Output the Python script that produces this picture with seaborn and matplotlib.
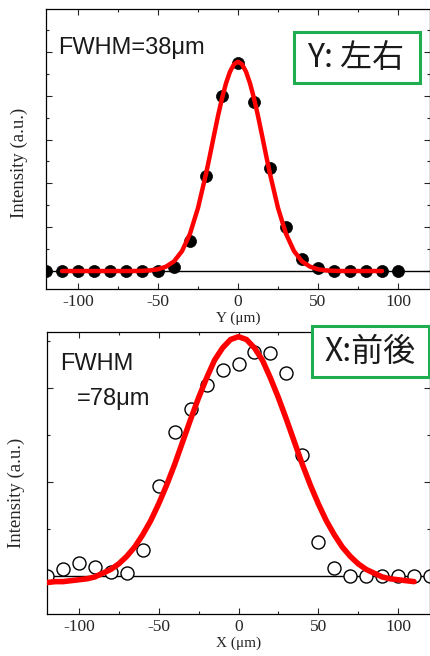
import numpy as np
import pandas as pd
from matplotlib import pyplot as plt
from matplotlib.patches import Rectangle
from matplotlib.ticker import MultipleLocator, NullFormatter
import seaborn as sns

# Y scan (left-right), filled dots
y_pos = [-120, -110, -100, -90, -80, -70, -60, -50, -40, -30, -20, -10, 0,
         10, 20, 30, 40, 50, 60, 70, 80, 90, 100]
y_int = [0, 0, 0, 0, 0, 0, 0, 0, 0.02, 0.137, 0.434, 0.80, 0.95,
         0.77, 0.47, 0.20, 0.055, 0.014, 0, 0, 0, 0, 0]

# Y fit curve
y_fit_pos = [-110, -100, -90, -80, -70, -65, -60, -55, -50, -45, -40, -35, -30, -25, -20,
             -17.5, -15, -12.5, -10, -7.5, -5, -2.5, 0, 2.5, 5, 7.5, 10, 12.5, 15, 17.5,
             20, 25, 30, 35, 40, 45, 50, 55, 60, 65, 70, 80, 90]
y_fit_int = [0, 0, 0, 0, 0, 0, 0.001, 0.003, 0.008, 0.020, 0.044, 0.091, 0.170, 0.288, 0.443,
             0.530, 0.620, 0.708, 0.788, 0.857, 0.910, 0.944, 0.955, 0.944, 0.910, 0.857, 0.788, 0.708, 0.620, 0.530,
             0.443, 0.288, 0.170, 0.091, 0.044, 0.020, 0.008, 0.003, 0.001, 0, 0, 0, 0]

# X scan (front-back), open circles
x_pos = [-120, -110, -100, -90, -80, -70, -60, -50, -40, -30, -20, -10, 0,
         10, 20, 30, 40, 50, 60, 70, 80, 90, 100, 110, 120]
x_int = [0, 0.071, 0.142, 0.10, 0.04, 0.028, 0.278, 0.964, 1.53, 1.78, 2.03, 2.19, 2.26,
         2.39, 2.38, 2.16, 1.29, 0.36, 0.08, 0, 0, 0, 0, 0, 0]

# X fit curve
x_fit_pos = [-120, -115, -110, -105, -100, -95, -90, -85, -80, -75, -70, -65, -60, -55, -50,
             -45, -40, -35, -30, -25, -20, -15, -10, -5, 0, 5, 10, 15, 20, 25, 30, 35, 40,
             45, 50, 55, 60, 65, 70, 75, 80, 85, 90, 95, 100, 105, 110]
x_fit_int = [-0.07, -0.06, -0.06, -0.05, -0.04, -0.03, -0.01, 0.03, 0.07, 0.13, 0.21, 0.31, 0.44, 0.59, 0.77,
             0.97, 1.19, 1.43, 1.67, 1.90, 2.11, 2.30, 2.43, 2.52, 2.55, 2.52, 2.43, 2.30, 2.11, 1.90, 1.67, 1.43, 1.19,
             0.97, 0.77, 0.59, 0.44, 0.31, 0.21, 0.13, 0.07, 0.03, -0.01, -0.03, -0.04, -0.05, -0.06]

x_ticks = [-100, -50, 0, 50, 100]
green = '#1fae4f'
serif = 'Liberation Serif'


def style_axes(ax, ymajor, ylim, xlabel):
    ax.set_xlim(-120, 120)
    ax.set_ylim(*ylim)
    ax.set_xticks(x_ticks)
    ax.xaxis.set_minor_locator(MultipleLocator(25))
    ax.yaxis.set_major_locator(MultipleLocator(ymajor))
    ax.yaxis.set_minor_locator(MultipleLocator(ymajor / 2))
    ax.yaxis.set_major_formatter(NullFormatter())
    ax.tick_params(which='both', direction='in', top=True, right=True, width=0.8)
    ax.tick_params(which='major', length=4.5)
    ax.tick_params(which='minor', length=2.5)
    for lab in ax.get_xticklabels():
        lab.set_fontfamily(serif)
        lab.set_fontsize(12.5)
    ax.set_xlabel(xlabel, fontfamily=serif, fontsize=11, labelpad=1)
    ax.set_ylabel('Intensity (a.u.)', fontfamily=serif, fontsize=13.5)
    for sp in ax.spines.values():
        sp.set_linewidth(0.9)
        sp.set_color('black')
    ax.axhline(0, color='black', lw=1, zorder=1)


def px(x, y):
    return x / 430, 1 - y / 656


def main():
    sns.set_style('ticks')
    plt.rcParams['axes.unicode_minus'] = False

    fig = plt.figure(figsize=(4.3, 6.56), dpi=100)

    # top panel
    ax1 = fig.add_axes([46 / 430, 1 - 289 / 656, 1 - 46 / 430, 280 / 656])
    sns.scatterplot(x=y_pos, y=y_int, ax=ax1, s=75, color='black', edgecolor='black',
                    linewidth=0.5, zorder=2)
    sns.lineplot(x=y_fit_pos, y=y_fit_int, ax=ax1, color='#ff0000', lw=3.2, zorder=3)
    style_axes(ax1, 0.2, (-0.082, 1.196), 'Y (μm)')
    ax1.yaxis.set_label_coords(-0.047, 0.45)

    # bottom panel
    ax2 = fig.add_axes([47 / 430, 1 - 614 / 656, 1 - 47 / 430, 282 / 656])
    sns.scatterplot(x=x_pos, y=x_int, ax=ax2, s=88, color='white', edgecolor='black',
                    linewidth=1.0, zorder=2)
    sns.lineplot(x=x_fit_pos, y=x_fit_int, ax=ax2, color='#ff0000', lw=4, zorder=3)
    style_axes(ax2, 1.0, (-0.405, 2.60), 'X (μm)')
    ax2.yaxis.set_label_coords(-0.057, 0.43)

    sans = ['Liberation Sans', 'DejaVu Sans']
    fig.text(*px(58, 54), 'FWHM=38μm', fontsize=17, family=sans, color='#1a1a1a', va='baseline')
    fig.text(*px(60, 370), 'FWHM', fontsize=17, family=sans, color='#1a1a1a', va='baseline')
    fig.text(*px(77, 405), '=78μm', fontsize=17, family=sans, color='#1a1a1a', va='baseline')

    # labelled boxes
    cjk = ['Noto Sans CJK JP', 'DejaVu Sans']
    for (x0, y0, x1, y1), label, cx, cy in [((294, 32, 420, 83), 'Y: 左右', 356, 58),
                                            ((312, 326, 429, 377), 'X:前後', 370, 352)]:
        fig.add_artist(Rectangle(px(x0, y1), (x1 - x0) / 430, (y1 - y0) / 656,
                                 transform=fig.transFigure, facecolor='white',
                                 edgecolor=green, lw=2.2, zorder=5))
        fig.text(*px(cx, cy), label, fontsize=23, family=cjk, color='#1a1a1a',
                 ha='center', va='center', zorder=6)

    fig.savefig('out.png', dpi=100)


if __name__ == "__main__":
    main()
